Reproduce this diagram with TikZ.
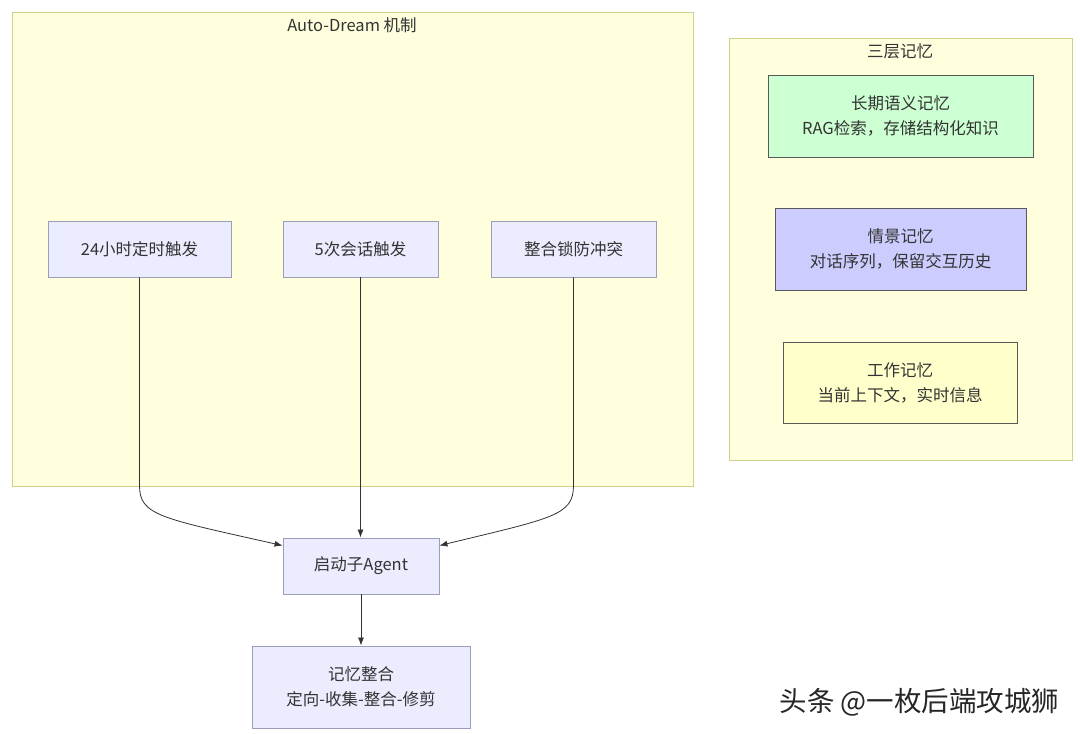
\documentclass[tikz,border=0pt]{standalone}
\usepackage{fontspec}
\usepackage{tikz}
\usetikzlibrary{arrows.meta,positioning,calc}
\newfontfamily\cjk{Noto Sans CJK SC}
\definecolor{clusterfill}{HTML}{FFFFDE}
\definecolor{clusterline}{HTML}{CDD38F}
\definecolor{nodefill}{HTML}{ECECFF}
\definecolor{nodeline}{HTML}{9C9CBC}
\definecolor{semfill}{HTML}{CCFFD2}
\definecolor{epifill}{HTML}{CCCCFF}
\definecolor{workfill}{HTML}{FFFFCC}
\definecolor{txt}{HTML}{333333}
\tikzset{
	cluster/.style={draw=clusterline,fill=clusterfill,line width=0.8pt},
	flownode/.style={draw=nodeline,fill=nodefill,line width=0.9pt,inner sep=0pt,
		align=center,text=txt,font=\cjk\fontsize{16.5}{25}\selectfont},
	memnode/.style={draw=black!65,line width=0.9pt,inner sep=0pt,
		align=center,text=txt,font=\cjk\fontsize{16.5}{25}\selectfont},
	title/.style={text=txt,font=\cjk\fontsize{16.5}{20}\selectfont},
	flow/.style={-{Latex[length=8pt,width=6pt]},draw=black!80,line width=0.8pt}
}
\begin{document}
\begin{tikzpicture}[x=1pt,y=-1pt]
		\fill[white] (0,0) rectangle (1080,734);
		\useasboundingbox (0,0) rectangle (1080,734);
		% clusters
		\draw[cluster] (12,12) rectangle (693,486);
		\node[title] (dreamtitle) at (352,25) {Auto-Dream 机制};
		\draw[cluster] (729,38) rectangle (1072,460);
		\node[title] (memtitle) at (900,51) {三层记忆};
		% triggers
		\node[flownode,minimum width=183pt,minimum height=56pt] (timer) at (139.5,249) {24小时定时触发};
		\node[flownode,minimum width=155pt,minimum height=56pt] (session) at (360.5,249) {5次会话触发};
		\node[flownode,minimum width=165pt,minimum height=56pt] (lock) at (573.5,249) {整合锁防冲突};
		\node[flownode,minimum width=156pt,minimum height=56pt] (start) at (361,566) {启动子Agent};
		\node[flownode,minimum width=218pt,minimum height=82pt] (merge) at (361,687) {记忆整合\\定向-收集-整合-修剪};
		% memory layers
		\node[memnode,fill=semfill,minimum width=265pt,minimum height=82pt] (semantic) at (900.5,116) {长期语义记忆\\RAG检索，存储结构化知识};
		\node[memnode,fill=epifill,minimum width=251pt,minimum height=82pt] (episodic) at (900.5,249) {情景记忆\\对话序列，保留交互历史};
		\node[memnode,fill=workfill,minimum width=234pt,minimum height=81pt] (working) at (900,382.5) {工作记忆\\当前上下文，实时信息};
		% edges
		\draw[flow] (timer.south) -- ++(0,208) .. controls ++(0,30) and (160,518) .. ([yshift=-8pt]start.north west);
		\draw[flow] (session.south) -- (session.south |- start.north);
		\draw[flow] (lock.south) -- ++(0,208) .. controls ++(0,30) and (553,518) .. ([yshift=-8pt]start.north east);
		\draw[flow] (start) -- (merge);
		\node[text=black!85,font=\cjk\fontsize{27.5}{30}\selectfont,anchor=west] (mark) at (776,702) {头条 @一枚后端攻城狮};
	\end{tikzpicture}
\end{document}
